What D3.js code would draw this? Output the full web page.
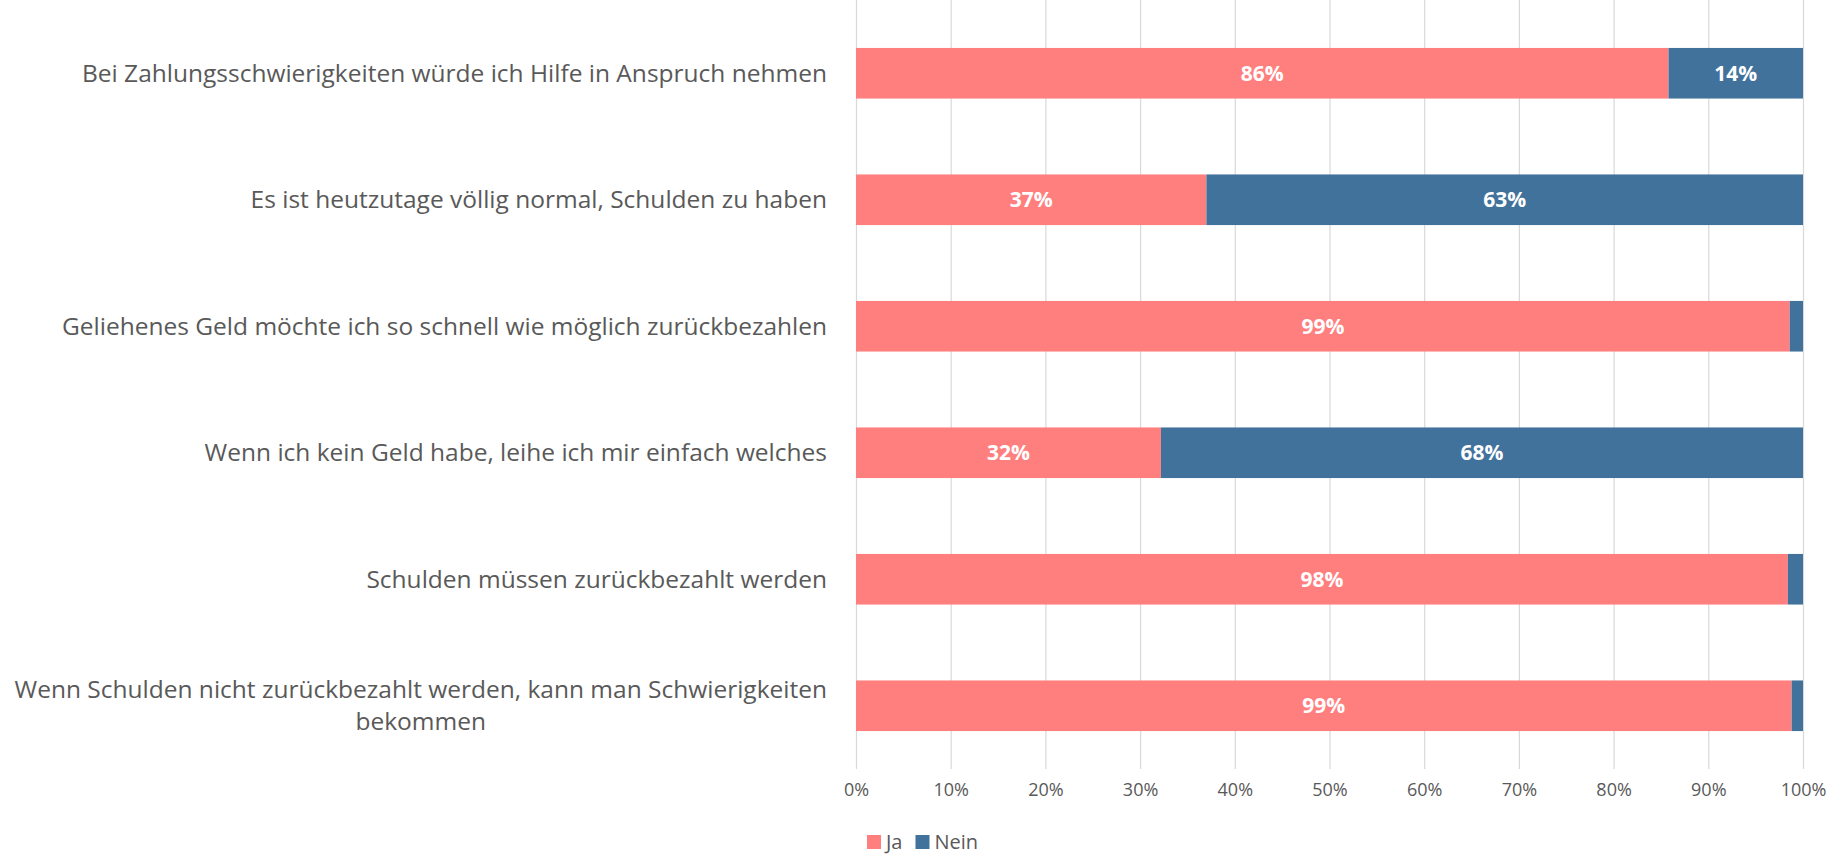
<!DOCTYPE html>
<html>
<head>
<meta charset="utf-8">
<script src="https://cdn.jsdelivr.net/npm/d3@7"></script>
<style>
  body { margin: 0; background: #fff; }
  text { font-family: "Open Sans", sans-serif; }
</style>
</head>
<body>
<div id="chart"></div>
<script>
// statements shown on the y axis (top to bottom)
const statements = [
  "Bei Zahlungsschwierigkeiten würde ich Hilfe in Anspruch nehmen",
  "Es ist heutzutage völlig normal, Schulden zu haben",
  "Geliehenes Geld möchte ich so schnell wie möglich zurückbezahlen",
  "Wenn ich kein Geld habe, leihe ich mir einfach welches",
  "Schulden müssen zurückbezahlt werden",
  "Wenn Schulden nicht zurückbezahlt werden, kann man Schwierigkeiten|bekommen",
];

// share of answers in percent
const jaValues = [85.8, 37.0, 98.6, 32.2, 98.4, 98.8];
const neinValues = [14.2, 63.0, 1.4, 67.8, 1.6, 1.2];

const seriesNames = ["Ja", "Nein"];
const seriesColors = ["#ff7f7f", "#41729c"];

const xTicks = [0, 10, 20, 30, 40, 50, 60, 70, 80, 90, 100];

class StackedBar {
  constructor(_config) {
    this.config = {
      parentElement: _config.parentElement,
      containerWidth: 1843,
      containerHeight: 856,
      margin: { top: 10, right: 40, bottom: 87, left: 856 },
    };
    this.initVis();
  }

  initVis() {
    const vis = this;

    vis.width = vis.config.containerWidth - vis.config.margin.left - vis.config.margin.right;
    vis.height = vis.config.containerHeight - vis.config.margin.top - vis.config.margin.bottom;

    // build rows for the stack from the named arrays
    vis.rows = statements.map((s, i) => ({ statement: s, Ja: jaValues[i], Nein: neinValues[i] }));

    vis.xScale = d3.scaleLinear().domain([0, 100]).range([0, vis.width]);

    vis.yScale = d3.scaleBand()
        .domain(statements)
        .range([0, vis.height])
        .paddingInner(0.6)
        .paddingOuter(0.3);

    vis.color = d3.scaleOrdinal().domain(seriesNames).range(seriesColors);

    vis.svg = d3.select(vis.config.parentElement).append("svg")
        .attr("width", vis.config.containerWidth)
        .attr("height", vis.config.containerHeight);

    vis.chart = vis.svg.append("g")
        .attr("transform", `translate(${vis.config.margin.left},${vis.config.margin.top})`);

    vis.renderGrid();
    vis.renderVis();
    vis.renderYLabels();
    vis.renderLegend();
  }

  // vertical gridlines + percent labels underneath
  renderGrid() {
    const vis = this;

    const axis = d3.axisBottom(vis.xScale)
        .tickValues(xTicks)
        .tickFormat((d) => d + "%")
        .tickSize(vis.height + vis.config.margin.top)
        .tickPadding(14);

    const g = vis.chart.append("g")
        .attr("class", "x-axis")
        .attr("transform", `translate(0,${-vis.config.margin.top})`)
        .call(axis);

    g.select(".domain").remove();
    g.selectAll(".tick line").attr("stroke", "#d9d9d9").attr("stroke-width", 1.2);
    g.selectAll(".tick text")
        .attr("fill", "#595959")
        .attr("font-size", 18);
  }

  renderVis() {
    const vis = this;

    const stack = d3.stack().keys(seriesNames);
    const series = stack(vis.rows);

    const layer = vis.chart.selectAll("g.layer")
        .data(series)
        .join("g")
        .attr("class", "layer")
        .attr("fill", (d) => vis.color(d.key));

    layer.selectAll("rect")
        .data((d) => d)
        .join("rect")
        .attr("x", (d) => vis.xScale(d[0]))
        .attr("y", (d) => vis.yScale(d.data.statement))
        .attr("width", (d) => vis.xScale(d[1]) - vis.xScale(d[0]))
        .attr("height", vis.yScale.bandwidth());

    // value labels, hidden on tiny segments
    layer.selectAll("text")
        .data((d) => d.filter((p) => p[1] - p[0] >= 5))
        .join("text")
        .attr("x", (d) => vis.xScale((d[0] + d[1]) / 2))
        .attr("y", (d) => vis.yScale(d.data.statement) + vis.yScale.bandwidth() / 2)
        .attr("dy", "0.35em")
        .attr("text-anchor", "middle")
        .attr("fill", "#fff")
        .attr("font-weight", "bold")
        .attr("font-size", 21)
        .text((d) => Math.round(d[1] - d[0]) + "%");
  }

  renderYLabels() {
    const vis = this;
    const rightEdge = -29;
    const lineHeight = 32;

    const labels = vis.chart.append("g").attr("class", "y-labels")
        .selectAll("text")
        .data(statements)
        .join("text")
        .attr("fill", "#595959")
        .attr("font-size", 24.5)
        .attr("text-anchor", "end")
        .attr("y", (d) => vis.yScale(d) + vis.yScale.bandwidth() / 2);

    labels.each(function (d) {
      const lines = d.split("|");
      const t = d3.select(this);
      const y0 = +t.attr("y") - ((lines.length - 1) * lineHeight) / 2;
      lines.forEach((line, i) => {
        t.append("tspan")
            .attr("y", y0 + i * lineHeight)
            .attr("dy", "0.35em")
            .text(line);
      });
      if (lines.length > 1) {
        // wrapped label: lines centred on the widest one
        const w = d3.max(t.selectAll("tspan").nodes(), (n) => n.getComputedTextLength());
        t.attr("text-anchor", "middle");
        t.selectAll("tspan").attr("x", rightEdge - w / 2);
      } else {
        t.selectAll("tspan").attr("x", rightEdge);
      }
    });
  }

  renderLegend() {
    const vis = this;
    const legend = vis.svg.append("g")
        .attr("class", "legend")
        .attr("transform", `translate(867,835)`);

    let xPos = 0;
    seriesNames.forEach((name) => {
      const item = legend.append("g").attr("transform", `translate(${xPos},0)`);
      item.append("rect")
          .attr("width", 14)
          .attr("height", 14)
          .attr("fill", vis.color(name));
      const label = item.append("text")
          .attr("x", 19)
          .attr("y", 14)
          .attr("fill", "#595959")
          .attr("font-size", 20)
          .text(name);
      xPos += 19 + label.node().getComputedTextLength() + 13;
    });
  }
}

new StackedBar({ parentElement: "#chart" });
</script>
</body>
</html>
